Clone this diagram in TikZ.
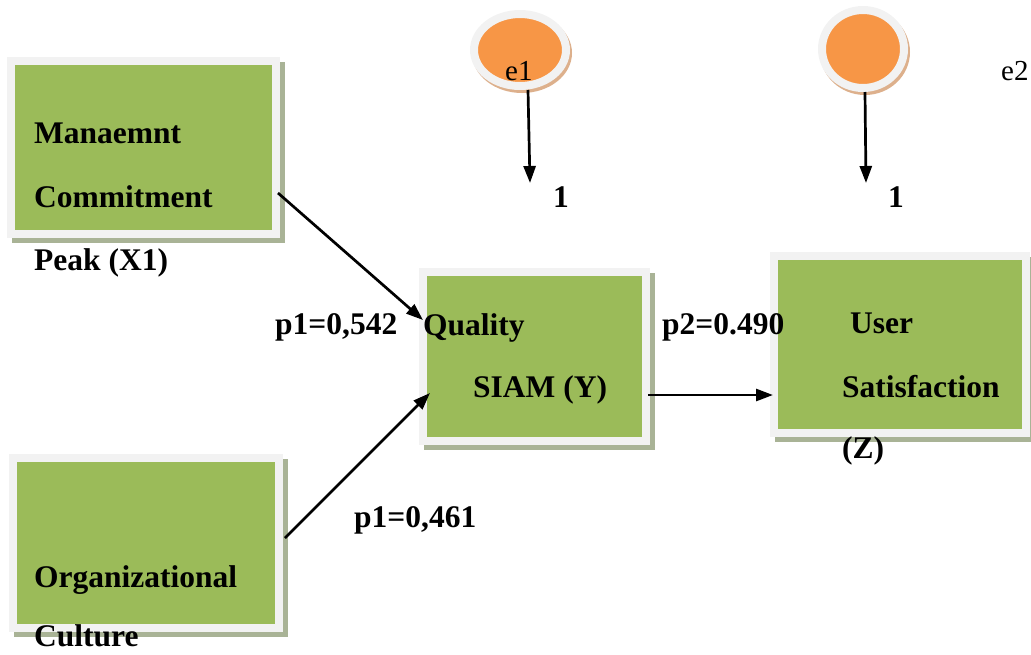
\documentclass[tikz,border=0pt]{standalone}
\usepackage{fontspec}
\setmainfont{Liberation Serif}
\usetikzlibrary{arrows.meta,backgrounds,shapes.geometric}
\definecolor{boxgreen}{HTML}{9BBB59}
\definecolor{framegray}{HTML}{F2F2F2}
\definecolor{boxshadow}{HTML}{A9B396}
\definecolor{errorange}{HTML}{F79646}
\definecolor{errshadow}{HTML}{DDB08C}
\tikzset{
  box/.style={rectangle, fill=boxgreen, draw=framegray, line width=8pt, inner sep=0pt},
  err/.style={ellipse, fill=errorange, draw=framegray, line width=8pt, inner sep=0pt},
  lbl/.style={anchor=base west, inner sep=0pt, font=\fontsize{31.5}{36}\selectfont\bfseries},
  elbl/.style={anchor=base west, inner sep=0pt, font=\fontsize{29}{34}\selectfont},
  arr/.style={line width=2.7pt, -{Triangle[length=17pt,width=12pt]}}
}
\begin{document}
\begin{tikzpicture}[x=1pt,y=-1pt]
\useasboundingbox (0,0) rectangle (1031,654);
% boxes
\node[box, minimum width=265pt, minimum height=173pt] (b1) at (143.5,147.5) {};
\node[box, minimum width=223pt, minimum height=169pt] (b2) at (534.5,356.5) {};
\node[box, minimum width=252pt, minimum height=177pt] (b3) at (900,344.5) {};
\node[box, minimum width=266pt, minimum height=170pt] (b4) at (146,543) {};
% error terms
\node[err, minimum width=92pt, minimum height=72pt] (e1) at (520,50) {};
\node[err, minimum width=82pt, minimum height=78pt] (e2) at (863,49) {};
\begin{scope}[on background layer]
  \foreach \b in {b1,b2,b3,b4}
    \fill[boxshadow] ([shift={(5,5)}]\b.south west) rectangle ([shift={(5,5)}]\b.north east);
  \fill[errshadow] ([shift={(2,3)}]e1.center) ellipse[x radius=50, y radius=40];
  \fill[errshadow] ([shift={(2,3)}]e2.center) ellipse[x radius=45, y radius=43];
\end{scope}
% texts
\node[lbl] (tman) at (34,143) {Manaemnt};
\node[lbl] (tcom) at (34,207) {Commitment};
\node[lbl] (tpeak) at (34,270) {Peak (X1)};
\node[lbl] (tqual) at (423,335) {Quality};
\node[lbl] (tsiam) at (473,397) {SIAM (Y)};
\node[lbl] (tuser) at (850,333) {User};
\node[lbl] (tsat) at (842,397) {Satisfaction};
\node[lbl] (tz) at (842,458) {(Z)};
\node[lbl] (torg) at (34,587) {Organizational};
\node[lbl] (tcult) at (34,646) {Culture};
\node[lbl] (lpa) at (275,334) {p1=0,542};
\node[lbl] (lpc) at (662,334) {p2=0.490};
\node[lbl] (lpb) at (354,527) {p1=0,461};
\node[lbl] (lone1) at (553,207) {1};
\node[lbl] (lone2) at (888,207) {1};
\node[elbl] (te1) at (505,80) {e1};
\node[elbl] (te2) at (1001,80) {e2};
% connectors
\coordinate (tip1) at (530,183);
\coordinate (tip2) at (866,183);
\draw[arr] ([shift={(8,0)}]e1.south) -- (tip1);
\draw[arr] ([shift={(2,0)}]e2.south) -- (tip2);
\draw[arr] ([shift={(-2,45.5)}]b1.east) -- ([shift={(4,-36.5)}]b2.west);
\draw[arr] ([shift={(2,-5)}]b4.east) -- ([shift={(11,36.5)}]b2.west);
\draw[arr] ([shift={(-2,38.5)}]b2.east) -- ([shift={(3,50.5)}]b3.west);
\end{tikzpicture}
\end{document}
